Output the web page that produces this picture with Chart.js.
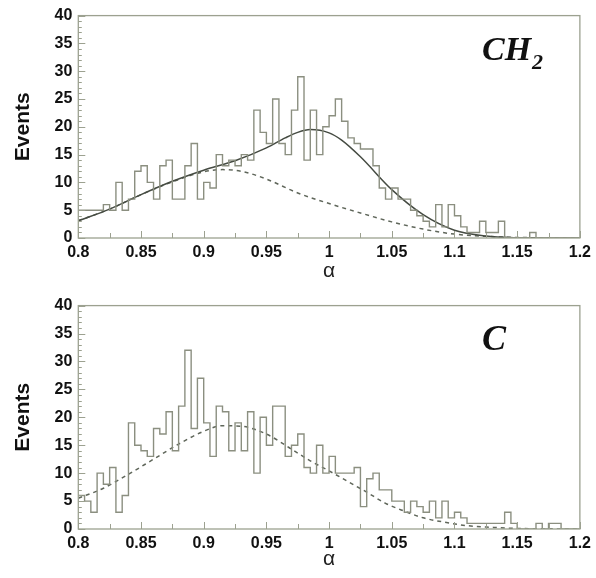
<!DOCTYPE html>
<html><head><meta charset="utf-8">
<script src="https://cdn.jsdelivr.net/npm/chart.js@4/dist/chart.umd.min.js"></script>
<style>
html,body{margin:0;padding:0;background:#fff;overflow:hidden;}
#c1{position:absolute;left:0;top:0;}
#c2{position:absolute;left:0;top:290px;}
</style></head><body>
<canvas id="c1" width="596" height="290"></canvas>
<canvas id="c2" width="596" height="288"></canvas>
<script>
// ---- data ----
const binEdges = [0.800,0.805,0.810,0.815,0.820,0.825,0.830,0.835,0.840,0.845,
  0.850,0.855,0.860,0.865,0.870,0.875,0.880,0.885,0.890,0.895,
  0.900,0.905,0.910,0.915,0.920,0.925,0.930,0.935,0.940,0.945,
  0.950,0.955,0.960,0.965,0.970,0.975,0.980,0.985,0.990,0.995,
  1.000,1.005,1.010,1.015,1.020,1.025,1.030,1.035,1.040,1.045,
  1.050,1.055,1.060,1.065,1.070,1.075,1.080,1.085,1.090,1.095,
  1.100,1.105,1.110,1.115,1.120,1.125,1.130,1.135,1.140,1.145,
  1.150,1.155,1.160,1.165,1.170,1.175,1.180,1.185,1.190,1.195,1.200];

const countsCH2 = [5,5,5,5,6,5,10,5,7,12,
  13,10,7,13,14,7,7,13,17,7,
  10,9,15,13,14,13,15,14,23,19,
  17,25,17,15,23,29,14,23,15,20,
  22,25,21,18,17,16,16,13,9,7,
  9,7,7,5,4,3,2,6,2,6,
  4,2,1,1,3,1,1,3,0,0,
  0,0,1,0,0,0,0,0,0,0];

const countsC = [6,5,3,10,8,11,3,6,19,15,
  14,13,18,17,21,14,22,32,18,27,
  19,13,22,21,14,19,14,21,10,20,
  15,22,22,13,15,17,11,10,15,10,
  13,10,10,10,11,4,9,10,7,7,
  5,5,3,5,4,3,5,2,5,2,
  3,2,1,1,1,1,1,1,3,1,
  0,0,0,1,0,1,1,0,0,0];

const fitTotalX = [0.8,0.825,0.85,0.875,0.9,0.925,0.95,0.965,0.975,0.985,1.0,1.01,1.025,1.05,1.075,1.1,1.125,1.15,1.175,1.2];
const fitTotalY = [3.1,5.2,7.8,10.2,12.2,13.9,16.2,18.0,19.0,19.5,18.9,17.6,14.6,8.7,4.2,1.4,0.35,0.05,0,0];

const fitPartX = [0.8,0.825,0.85,0.875,0.9,0.915,0.93,0.95,0.975,1.0,1.025,1.05,1.075,1.1,1.125,1.15,1.2];
const fitPartY = [3.1,5.2,7.8,10.1,11.9,12.3,12.0,10.6,8.1,6.2,4.5,2.9,1.6,0.7,0.3,0.1,0];

const fitCX = [0.8,0.82,0.84,0.86,0.88,0.9,0.915,0.93,0.95,0.97,0.985,1.0,1.015,1.03,1.045,1.06,1.075,1.09,1.11,1.13,1.15,1.2];
const fitCY = [5.5,7.3,9.8,12.5,15.2,17.5,18.5,18.4,17.0,14.3,12.2,10.4,8.5,6.6,4.6,3.2,2.0,1.3,0.6,0.3,0.1,0];

const xTickLabels = ['0.8','0.85','0.9','0.95','1','1.05','1.1','1.15','1.2'];
const yTickLabels = ['0','5','10','15','20','25','30','35','40'];

// ---- helpers ----
function histPoints(counts){
  return binEdges.map((x,i)=>({x:x, y:counts[Math.min(i, counts.length-1)]}));
}
function curvePoints(xs, ys){ return xs.map((x,i)=>({x:x, y:ys[i]})); }

const FRAME = '#9ca190';
const framePlugin = {
  id:'frame',
  afterDatasetsDraw(chart){
    const {ctx, chartArea:a, scales:{x,y}} = chart;
    ctx.save();
    ctx.strokeStyle = FRAME; ctx.lineWidth = 1.3;
    ctx.strokeRect(a.left, a.top, a.right-a.left, a.bottom-a.top);
    ctx.lineWidth = 1;
    for (let v=0; v<=40; v++){
      const py = Math.round(y.getPixelForValue(v))+0.5;
      const len = (v%5===0)?7:3.5;
      ctx.beginPath(); ctx.moveTo(a.left,py); ctx.lineTo(a.left+len,py); ctx.stroke();
    }
    for (let k=0; k<=16; k++){
      const v = 0.8 + k*0.025;
      const px = Math.round(x.getPixelForValue(v))+0.5;
      const len = (k%2===0)?7:5;
      ctx.beginPath(); ctx.moveTo(px,a.bottom); ctx.lineTo(px,a.bottom-len); ctx.stroke();
    }
    const lab = chart.options.plugins.frame;
    ctx.fillStyle = '#111';
    ctx.textBaseline = 'alphabetic'; ctx.textAlign = 'left';
    ctx.font = 'bold italic ' + lab.size + 'px "Liberation Serif", "DejaVu Serif", serif';
    ctx.fillText(lab.main, lab.x, lab.y);
    if (lab.sub){
      const w = ctx.measureText(lab.main).width;
      ctx.font = 'bold italic ' + lab.subSize + 'px "Liberation Serif", "DejaVu Serif", serif';
      ctx.fillText(lab.sub, lab.x + w + 1, lab.y + lab.subDy);
    }
    ctx.restore();
  }
};

function makeChart(id, datasets, label, xAxisHeight){
  const tickFont = {family:'"Liberation Sans", Arial, sans-serif', size:16, weight:'bold'};
  return new Chart(document.getElementById(id), {
    type:'line',
    data:{datasets:datasets},
    options:{
      responsive:false, animation:false, devicePixelRatio:1,
      layout:{padding:{left:0, right:12.4, top:14, bottom:0}},
      plugins:{legend:{display:false}, tooltip:{enabled:false}, frame:label},
      elements:{point:{radius:0}},
      scales:{
        x:{type:'linear', min:0.8, max:1.2, offset:false,
          grid:{display:false, drawTicks:false}, border:{display:false},
          ticks:{stepSize:0.05, autoSkip:false, maxRotation:0, padding:5, color:'#111', font:tickFont,
            callback:(v,i)=>xTickLabels[i]},
          title:{display:true, text:'α', color:'#222', font:{family:'"Liberation Sans", Arial, sans-serif', size:21}, padding:{top:0,bottom:6}},
          afterFit:(s)=>{s.height = xAxisHeight;}
        },
        y:{min:0, max:40,
          grid:{display:false, drawTicks:false}, border:{display:false},
          ticks:{stepSize:5, padding:6, color:'#111', font:tickFont,
            callback:(v,i)=>yTickLabels[i]},
          title:{display:true, text:'Events', color:'#111', font:{family:'"Liberation Sans", Arial, sans-serif', size:21, weight:'bold'}, padding:{top:11,bottom:0}},
          afterFit:(s)=>{s.width = 78.3;}
        }
      }
    },
    plugins:[framePlugin]
  });
}

const histStyle = {borderColor:'#8b8f80', borderWidth:1.4, stepped:'before', fill:false, pointRadius:0};

makeChart('c1', [
  Object.assign({label:'CH2 data', data:histPoints(countsCH2)}, histStyle),
  {label:'total fit', data:curvePoints(fitTotalX, fitTotalY), borderColor:'#454b42', borderWidth:1.5, cubicInterpolationMode:'monotone', pointRadius:0, fill:false},
  {label:'component', data:curvePoints(fitPartX, fitPartY), borderColor:'#5f665a', borderWidth:1.5, borderDash:[4,4], cubicInterpolationMode:'monotone', pointRadius:0, fill:false}
], {main:'CH', sub:'2', size:34, subSize:22, subDy:9, x:482, y:60}, 52);

makeChart('c2', [
  Object.assign({label:'C data', data:histPoints(countsC)}, histStyle),
  {label:'fit', data:curvePoints(fitCX, fitCY), borderColor:'#5f665a', borderWidth:1.5, borderDash:[4,4], cubicInterpolationMode:'monotone', pointRadius:0, fill:false}
], {main:'C', sub:'', size:36, subSize:22, subDy:9, x:482, y:60}, 49);
</script>
</body></html>
